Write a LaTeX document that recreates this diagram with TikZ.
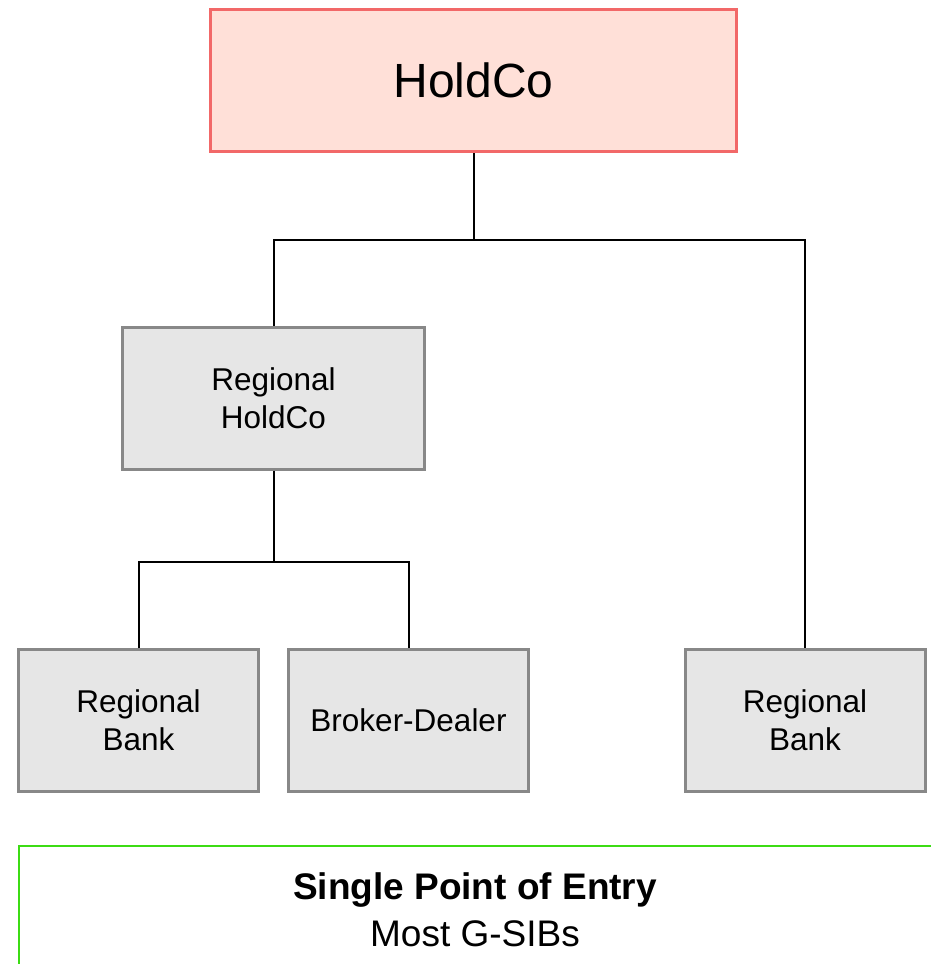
\documentclass[tikz,border=0pt]{standalone}
\usepackage{fontspec}
\setmainfont{Liberation Sans}
\definecolor{salmonfill}{RGB}{255,224,216}
\definecolor{salmonline}{RGB}{242,104,104}
\definecolor{boxfill}{RGB}{230,230,230}
\definecolor{boxline}{RGB}{136,136,136}
\definecolor{greenline}{RGB}{60,220,20}

\begin{document}
\begin{tikzpicture}[x=1pt,y=-1pt,
   entity/.style={draw=boxline,fill=boxfill,line width=3pt,inner sep=0pt,
     minimum width=240pt,minimum height=142pt,align=center,
     font=\fontsize{31.5}{38}\selectfont},
   top/.style={draw=salmonline,fill=salmonfill,line width=3pt,inner sep=0pt,
     minimum width=526pt,minimum height=142pt,font=\fontsize{48}{56}\selectfont},
   link/.style={black,line width=2pt}]
   \useasboundingbox (0,0) rectangle (930,964);
   % entities
   \node[top] (hold) at (473.5,80.5) {HoldCo};
   \node[entity,minimum width=302pt] (rhc) at (273.5,398) {Regional\\HoldCo};
   \node[entity] (bankL) at (138.5,720.5) {Regional\\Bank};
   \node[entity] (bd) at (408.5,720.5) {Broker-Dealer};
   \node[entity] (bankR) at (805,720.5) {Regional\\Bank};
   % connectors
   \coordinate (j1) at (473.5,240);
   \coordinate (j2) at (273.5,562);
   \draw[link] (hold.south) -- (j1);
   \draw[link] (rhc.north) |- (j1) -| (bankR.north);
   \draw[link] (rhc.south) -- (j2);
   \draw[link] (bankL.north) |- (j2) -| (bd.north);
   % legend
   \draw[greenline,line width=2pt] (19,975) -- (19,846) -- (940,846);
   \node[align=center,font=\fontsize{37}{47}\selectfont] (entry) at (475,910)
    {\textbf{Single Point of Entry}\\Most G-SIBs};
\end{tikzpicture}
\end{document}
